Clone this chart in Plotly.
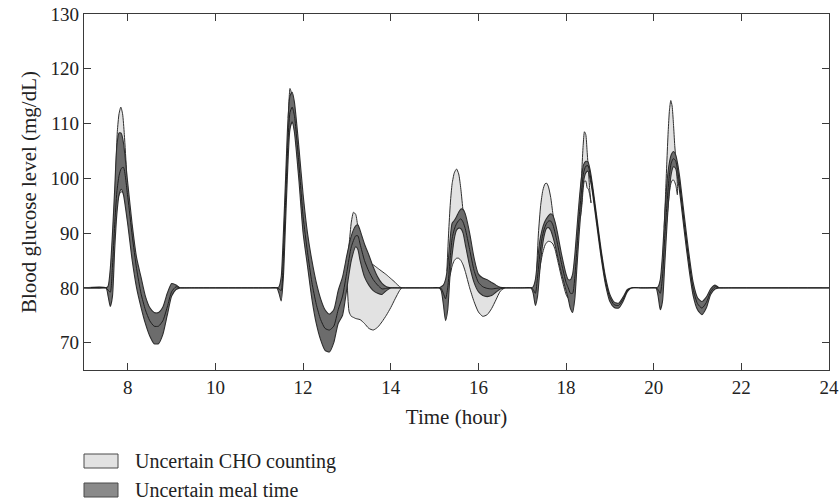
import plotly.graph_objects as go

# ---------------- data ----------------
hours = [
    7.00, 7.50, 7.55, 7.60, 7.65, 7.70, 7.75, 7.80, 7.85, 7.90, 8.00, 8.10, 8.20, 8.30, 8.40, 8.50, 8.60, 8.70, 8.80, 8.90, 9.00, 9.10, 9.20, 9.40,
    11.20, 11.40, 11.45, 11.50, 11.55, 11.60, 11.65, 11.70, 11.75, 11.80, 11.90, 12.00, 12.10, 12.20, 12.30, 12.40, 12.50, 12.60, 12.70, 12.80, 12.90,
    13.00, 13.10, 13.20, 13.25, 13.30, 13.40, 13.50, 13.60, 13.70, 13.80, 13.90, 14.00, 14.20,
    14.90, 15.10, 15.15, 15.20, 15.25, 15.30, 15.35, 15.40, 15.45, 15.50, 15.55, 15.60, 15.65, 15.70, 15.80, 15.90, 16.00, 16.10, 16.20, 16.30, 16.40, 16.50, 16.60, 16.80,
    17.00, 17.20, 17.25, 17.30, 17.35, 17.40, 17.45, 17.50, 17.55, 17.60, 17.65, 17.70, 17.75, 17.80, 17.90, 18.00, 18.05, 18.10, 18.15, 18.20, 18.25,
    18.30, 18.35, 18.40, 18.45, 18.50, 18.55, 18.60, 18.70, 18.80, 18.90, 19.00, 19.10, 19.20, 19.30, 19.40, 19.50, 19.70,
    19.85, 20.05, 20.10, 20.15, 20.20, 20.25, 20.30, 20.35, 20.40, 20.45, 20.50, 20.55, 20.60, 20.70, 20.80, 20.90, 21.00, 21.10, 21.20, 21.30, 21.40, 21.50, 21.70,
    24.00,
]

# upper edge of the "uncertain meal time" band
meal_hi = [
    80, 80, 80.3, 83.5, 90, 98, 106, 108.3, 108.2, 106.5, 99, 91.5, 85.5, 82, 78.5, 76.4, 75.5, 75.5, 76.5, 79, 80.8, 80.5, 80, 80,
    80, 80, 80.2, 82, 90, 100, 110, 115, 115.7, 114, 106, 97, 90, 85, 81, 78, 76, 75.2, 76, 79.5, 82,
    86, 89.5, 91.3, 91.5, 90.5, 88, 86, 83.8, 82, 80.8, 80.2, 80, 80,
    80, 80, 80.2, 80.5, 81.5, 84, 88.5, 91.8, 92.3, 93, 93.8, 94.4, 94.3, 93.5, 90, 85.5, 82.5, 81.8, 81.5, 81, 80.5, 80.1, 80, 80,
    80, 80, 80.2, 81.5, 85, 88.5, 90.5, 91.8, 92.6, 93.2, 93.5, 93.2, 92, 90.2, 86, 82.5, 81.5, 81.5, 82.5, 86, 91,
    96, 100, 102.5, 103.1, 103, 101.5, 99, 93, 87, 82, 78.8, 77.4, 77.2, 78.3, 79.7, 80, 80,
    80, 80, 80.2, 81.5, 86, 93, 99, 102.5, 104.3, 104.9, 104.3, 102.5, 99.8, 93, 86.5, 81, 78.2, 77.5, 78.3, 79.8, 80.5, 80, 80,
    80,
]

# lower edge of the "uncertain meal time" band
meal_lo = [
    80, 80, 78.5, 76.6, 78.5, 87, 93.5, 97, 98, 97, 91.5, 85, 80, 76.5, 73.5, 71.2, 69.8, 69.8, 71.5, 75, 78.5, 79.7, 80, 80,
    80, 80, 79, 77.6, 82, 92, 102, 109, 110.3, 108.5, 100, 90, 84, 78, 73.5, 70.5, 68.6, 68.3, 70, 73.5, 75,
    80, 85, 87.5, 87, 85, 82, 80.5, 79.5, 79, 78.8, 79.5, 80, 80,
    80, 80, 79.5, 77, 74, 76, 82, 86, 89, 90.5, 90.9, 90.8, 90, 88, 84, 81, 79.3, 78.6, 78.4, 78.6, 79.2, 79.8, 80, 80,
    80, 80, 79, 76.8, 78.5, 83, 87, 89.5, 90.8, 91, 90.5, 89.3, 87.8, 86, 82.5, 79.5, 78, 76.2, 75.5, 78, 84,
    90, 95, 99.5, 101, 101.3, 99.8, 97.5, 91.5, 85.5, 80.6, 77.5, 76.4, 76.3, 77.5, 79.3, 80, 80,
    80, 80, 78.5, 76, 77.5, 84, 91, 97, 100.8, 102.1, 101.8, 99.8, 97, 90.2, 83.8, 78.6, 76, 75.1, 76.3, 78.8, 79.8, 80, 80,
    80,
]

# nominal glucose trajectory (dark line inside the band)
nominal = [
    80, 80, 79.6, 79.2, 84, 91.5, 97.5, 100.5, 101.8, 102, 96.5, 89.5, 83.5, 79, 76, 74, 73, 73, 74, 76.5, 79.3, 80.2, 80, 80,
    80, 80, 79.8, 79.5, 86, 96, 106, 112, 113, 111.5, 103, 93, 86.5, 81, 77, 74.2, 72.6, 72.3, 73, 76, 78.5,
    83, 87.5, 89.5, 89.5, 88, 85, 83, 81.5, 80.5, 79.8, 79.9, 80, 80,
    80, 80, 79.9, 79, 78, 80, 85, 89, 90.7, 91.7, 92.3, 92.6, 92, 90.8, 87, 83.2, 81, 80.2, 79.9, 79.8, 79.9, 80, 80, 80,
    80, 80, 79.7, 79, 82, 86, 89, 90.7, 91.7, 92.2, 92.2, 91.5, 90, 88.2, 84.3, 81, 80, 79, 79, 82, 87.5,
    93, 97.5, 101, 102.2, 102.3, 100.7, 98.3, 92.3, 86.3, 81.3, 78.2, 76.9, 76.8, 77.9, 79.5, 80, 80,
    80, 80, 79.7, 79, 82, 89, 95, 100, 102.8, 103.6, 103.2, 101.2, 98.4, 91.6, 85.2, 79.8, 77.1, 76.3, 77.3, 79.3, 80.2, 80, 80,
    80,
]

# "uncertain CHO counting" band: visible pieces, separated by None
cho_hours = [
    7.72, 7.76, 7.80, 7.84, 7.88, 7.92, 7.97, None,
    11.66, 11.68, 11.70, 11.72, 11.75, None,
    13.00, 13.05, 13.10, 13.15, 13.20, 13.25, 13.30, 13.40, 13.50, 13.60, 13.70, 13.80, 13.90, 14.00, 14.10, 14.20, 14.25, None,
    15.28, 15.32, 15.36, 15.40, 15.45, 15.50, 15.55, 15.60, 15.65, 15.70, 15.80, 15.90, 16.00, 16.10, 16.20, 16.30, 16.40, 16.50, 16.60, None,
    17.33, 17.37, 17.42, 17.47, 17.52, 17.56, 17.60, 17.65, 17.70, 17.75, 17.80, 17.90, 18.00, 18.04, None,
    18.33, 18.36, 18.39, 18.42, 18.45, 18.48, 18.51, 18.54, 18.57, None,
    20.24, 20.27, 20.30, 20.33, 20.36, 20.39, 20.42, 20.45, 20.48, 20.51, 20.54,
]
cho_hi = [
    99, 108.5, 111.8, 113, 111.8, 108, 101, None,
    111, 114.5, 116.4, 116, 114.5, None,
    85, 88, 92, 93.8, 93.4, 91, 88, 85.5, 84.5, 84.2, 83.6, 83, 82.4, 81.7, 81, 80.2, 80, None,
    83, 90, 95.5, 99, 101, 101.7, 100.8, 98, 94, 91, 88, 84, 81.5, 80.8, 80.5, 80.3, 80.1, 80, 80, None,
    83.5, 90, 95, 97.8, 99, 99.1, 98.4, 96.5, 93.5, 91, 88, 84, 80.5, 79, None,
    97, 101.5, 106, 108.5, 108, 105, 101.5, 98, 95.5, None,
    91, 97, 103, 108.5, 112.5, 114.2, 113.2, 110, 106, 103, 99,
]
cho_lo = [
    96, 96, 97, 97.5, 97.5, 97, 95, None,
    108, 108, 109.5, 110, 110, None,
    82, 75.6, 74.8, 74.6, 74.4, 74.3, 74.2, 73.5, 72.6, 72.3, 72.8, 73.8, 75, 76.4, 78, 79.5, 80, None,
    81, 81.5, 82.5, 84, 85, 85.4, 85.4, 85, 84.2, 83, 80, 77.5, 75.6, 74.8, 75.1, 76.2, 77.8, 79.4, 80, None,
    81, 82, 84.5, 86.5, 87.8, 88.3, 88.5, 88.4, 88, 87, 85.3, 81.8, 78.8, 78.2, None,
    93, 95, 98, 99.5, 99.5, 98.3, 98, 97, 95.5, None,
    88, 90, 92.5, 95, 97.5, 99, 99.6, 99.7, 99.3, 98.5, 97,
]

x_ticks = [8, 10, 12, 14, 16, 18, 20, 22, 24]
y_ticks = [70, 80, 90, 100, 110, 120, 130]
legend_labels = ["Uncertain CHO counting", "Uncertain meal time"]

assert len(hours) == len(meal_hi) == len(meal_lo) == len(nominal)
assert len(cho_hours) == len(cho_hi) == len(cho_lo)

# ---------------- styling ----------------
FONT = "Liberation Serif"
LIGHT = "#e2e2e2"
DARK = "#6c6c6c"
EDGE = "#2e2e2e"
AXIS = "#3a3a3a"
TXT = "#222222"

W, H = 839, 504
ML, MR, MT, MB = 84, 10, 14, 134
PW, PH = W - ML - MR, H - MT - MB


def px_x(x):
    return (x - ML) / PW


def px_y(y):
    return (H - MB - y) / PH


def segments(xs, *cols):
    out, cur = [], None
    for i, x in enumerate(xs):
        if x is None:
            if cur:
                out.append(cur)
            cur = None
            continue
        if cur is None:
            cur = [[] for _ in range(len(cols) + 1)]
        cur[0].append(x)
        for k, c in enumerate(cols):
            cur[k + 1].append(c[i])
    if cur:
        out.append(cur)
    return out


# light band polygons
cx, cy = [], []
for t, hi, lo in segments(cho_hours, cho_hi, cho_lo):
    cx += t + t[::-1] + [None]
    cy += hi + lo[::-1] + [None]

fig = go.Figure()
fig.add_trace(go.Scatter(
    x=cx, y=cy, mode="lines", fill="toself", fillcolor=LIGHT,
    line=dict(color=EDGE, width=1, shape="spline", smoothing=0.6),
    name=legend_labels[0], showlegend=False, hoverinfo="skip",
))
fig.add_trace(go.Scatter(
    x=hours + hours[::-1], y=meal_hi + meal_lo[::-1], mode="lines",
    fill="toself", fillcolor=DARK,
    line=dict(color=EDGE, width=1.1, shape="spline", smoothing=0.6),
    name=legend_labels[1], showlegend=False, hoverinfo="skip",
))
fig.add_trace(go.Scatter(
    x=hours, y=nominal, mode="lines",
    line=dict(color="#1e1e1e", width=1, shape="spline", smoothing=0.6),
    showlegend=False, hoverinfo="skip",
))

# manual legend below the plot
shapes, annotations = [], []
for i, (label, col) in enumerate(zip(legend_labels, [LIGHT, "#8a8a8a"])):
    yc = 461 + i * 29
    shapes.append(dict(type="rect", xref="paper", yref="paper",
                       x0=px_x(84), x1=px_x(118), y0=px_y(yc - 7), y1=px_y(yc + 7),
                       fillcolor=col, line=dict(color="#4a4a4a", width=1)))
    annotations.append(dict(xref="paper", yref="paper", x=px_x(133), y=px_y(yc),
                            xanchor="left", yanchor="middle", showarrow=False,
                            text=label, font=dict(family=FONT, size=20, color=TXT)))

axis_common = dict(
    showgrid=False, zeroline=False, showline=True, linecolor=AXIS, linewidth=1.2,
    mirror="ticks", ticks="inside", ticklen=7, tickwidth=1.2, tickcolor=AXIS,
    tickfont=dict(family=FONT, size=19, color=TXT), automargin=False,
)

fig.update_layout(
    width=W, height=H,
    margin=dict(l=ML, r=MR, t=MT, b=MB),
    plot_bgcolor="white", paper_bgcolor="white",
    font=dict(family=FONT, size=19, color=TXT),
    xaxis=dict(range=[7, 24], tickvals=x_ticks,
               title=dict(text="Time (hour)", standoff=12,
                          font=dict(family=FONT, size=21, color=TXT)),
               **axis_common),
    yaxis=dict(range=[65, 130], tickvals=y_ticks,
               title=dict(text="Blood glucose level (mg/dL)", standoff=8,
                          font=dict(family=FONT, size=21, color=TXT)),
               **axis_common),
    shapes=shapes, annotations=annotations,
    showlegend=False,
)

fig.write_html("out.html", config={"displayModeBar": False},
               post_script="document.body.style.margin='0';")
